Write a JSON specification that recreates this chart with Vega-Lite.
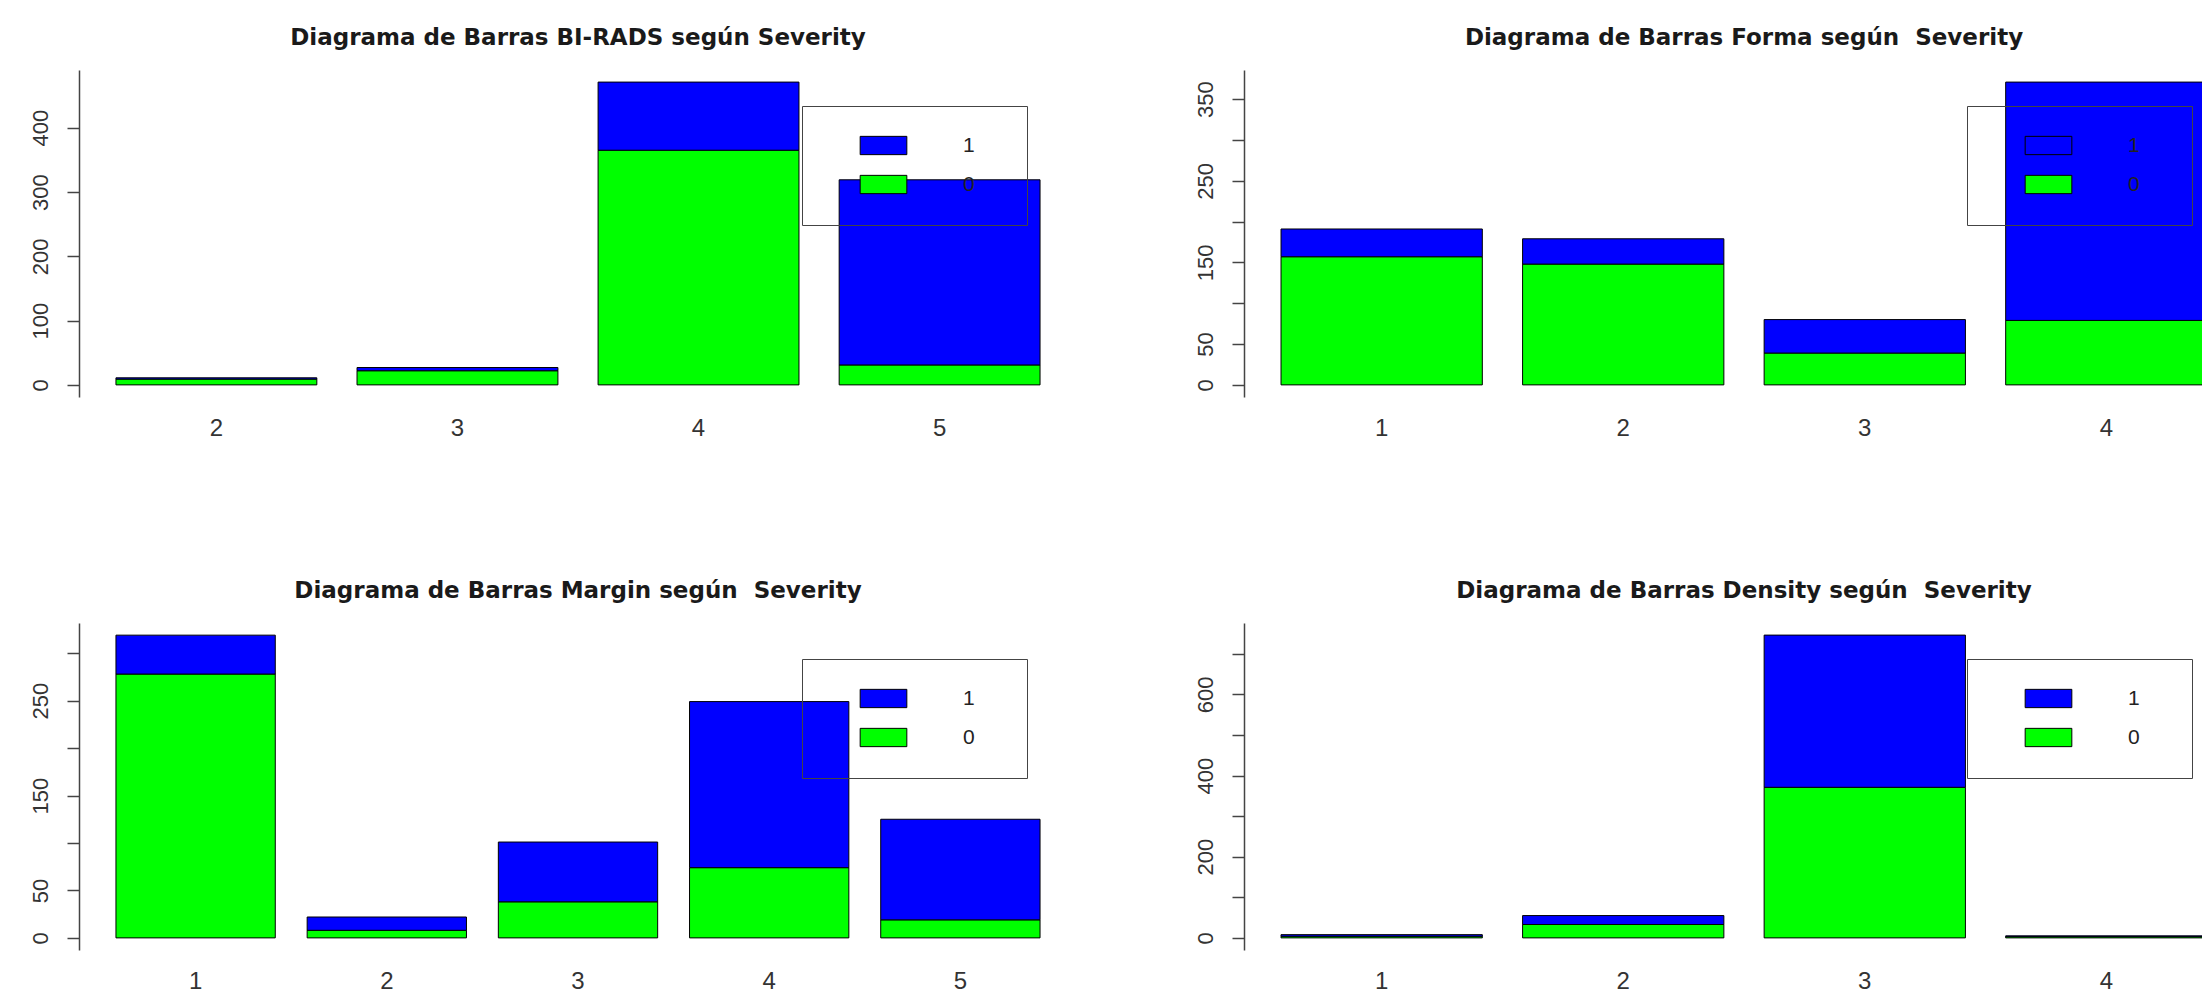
{
  "$schema": "https://vega.github.io/schema/vega-lite/v6.json",
  "background": "white",
  "padding": {"left": 28, "top": 27, "right": 0, "bottom": 0},
  "autosize": {"type": "pad"},
  "columns": 2,
  "spacing": {"row": 226, "column": 167},
  "bounds": "flush",
  "resolve": {
    "scale": {"x": "independent", "y": "independent", "color": "independent"},
    "legend": {"color": "independent"},
    "axis": {"x": "independent", "y": "independent"}
  },
  "config": {
    "view": {"stroke": null},
    "font": "Liberation Sans",
    "title": {"font": "DejaVu Sans", "fontSize": 23, "fontWeight": "bold", "color": "#1a1a1a", "anchor": "middle", "offset": 20},
    "axis": {"labelFont": "Liberation Sans", "labelFontSize": 22, "labelColor": "#333333", "domainColor": "#444444", "tickColor": "#444444", "domainWidth": 1.5, "tickWidth": 1.5, "grid": false},
    "axisY": {"tickSize": 12, "labelPadding": 15, "labelAngle": -90, "labelAlign": "center", "labelBaseline": "bottom"},
    "axisX": {"domain": false, "ticks": false, "labelAngle": 0, "labelPadding": 19, "labelFontSize": 24},
    "legend": {"orient": "none", "legendX": 723, "legendY": 36, "padding": 29, "strokeColor": "#444444", "symbolType": "M-2.55,-1H2.55V1H-2.55ZM12.2,0", "symbolSize": 335, "symbolStrokeColor": "#000000", "symbolStrokeWidth": 1, "symbolOpacity": 1, "labelFont": "Liberation Sans", "labelFontSize": 21, "labelColor": "#222222", "rowPadding": 16, "symbolOffset": 42, "labelOffset": 69}
  },
  "concat": [
    {
      "title": "Diagrama de Barras BI-RADS según Severity",
      "width": 998, "height": 327,
      "data": {"values": [
        {"cat": "2", "Severity": "0", "count": 9}, {"cat": "2", "Severity": "1", "count": 2},
        {"cat": "3", "Severity": "0", "count": 22}, {"cat": "3", "Severity": "1", "count": 5},
        {"cat": "4", "Severity": "0", "count": 365}, {"cat": "4", "Severity": "1", "count": 106},
        {"cat": "5", "Severity": "0", "count": 31}, {"cat": "5", "Severity": "1", "count": 288}
      ]},
      "mark": {"type": "bar", "stroke": "#000000", "strokeWidth": 1},
      "encoding": {
        "x": {"field": "cat", "type": "ordinal", "scale": {"paddingInner": 0.1667, "paddingOuter": 0.1533}, "axis": {"title": null}},
        "y": {"field": "count", "type": "quantitative", "stack": "zero", "scale": {"domain": [-18.84, 489.8], "nice": false, "zero": false}, "axis": {"title": null, "values": [0, 100, 200, 300, 400]}},
        "color": {"field": "Severity", "type": "nominal", "scale": {"domain": ["1", "0"], "range": ["#0000FF", "#00FF00"]}, "legend": {"title": null}},
        "order": {"field": "Severity", "sort": "ascending"}
      }
    },
    {
      "title": "Diagrama de Barras Forma según\u00a0 Severity",
      "width": 1000, "height": 327,
      "data": {"values": [
        {"cat": "1", "Severity": "0", "count": 157}, {"cat": "1", "Severity": "1", "count": 34},
        {"cat": "2", "Severity": "0", "count": 148}, {"cat": "2", "Severity": "1", "count": 31},
        {"cat": "3", "Severity": "0", "count": 39}, {"cat": "3", "Severity": "1", "count": 41},
        {"cat": "4", "Severity": "0", "count": 79}, {"cat": "4", "Severity": "1", "count": 292}
      ]},
      "mark": {"type": "bar", "stroke": "#000000", "strokeWidth": 1},
      "encoding": {
        "x": {"field": "cat", "type": "ordinal", "scale": {"paddingInner": 0.1667, "paddingOuter": 0.1533}, "axis": {"title": null}},
        "y": {"field": "count", "type": "quantitative", "stack": "zero", "scale": {"domain": [-14.84, 385.8], "nice": false, "zero": false}, "axis": {"title": null, "values": [0, 50, 100, 150, 200, 250, 300, 350], "labelExpr": "datum.value % 100 == 0 && datum.value > 0 ? '' : datum.label"}},
        "color": {"field": "Severity", "type": "nominal", "scale": {"domain": ["1", "0"], "range": ["#0000FF", "#00FF00"]}, "legend": {"title": null}},
        "order": {"field": "Severity", "sort": "ascending"}
      }
    },
    {
      "title": "Diagrama de Barras Margin según\u00a0 Severity",
      "width": 998, "height": 327,
      "data": {"values": [
        {"cat": "1", "Severity": "0", "count": 278}, {"cat": "1", "Severity": "1", "count": 41},
        {"cat": "2", "Severity": "0", "count": 8}, {"cat": "2", "Severity": "1", "count": 14},
        {"cat": "3", "Severity": "0", "count": 38}, {"cat": "3", "Severity": "1", "count": 63},
        {"cat": "4", "Severity": "0", "count": 74}, {"cat": "4", "Severity": "1", "count": 175},
        {"cat": "5", "Severity": "0", "count": 19}, {"cat": "5", "Severity": "1", "count": 106}
      ]},
      "mark": {"type": "bar", "stroke": "#000000", "strokeWidth": 1},
      "encoding": {
        "x": {"field": "cat", "type": "ordinal", "scale": {"paddingInner": 0.1667, "paddingOuter": 0.1933}, "axis": {"title": null}},
        "y": {"field": "count", "type": "quantitative", "stack": "zero", "scale": {"domain": [-12.76, 331.8], "nice": false, "zero": false}, "axis": {"title": null, "values": [0, 50, 100, 150, 200, 250, 300], "labelExpr": "datum.value % 100 == 0 && datum.value > 0 ? '' : datum.label"}},
        "color": {"field": "Severity", "type": "nominal", "scale": {"domain": ["1", "0"], "range": ["#0000FF", "#00FF00"]}, "legend": {"title": null}},
        "order": {"field": "Severity", "sort": "ascending"}
      }
    },
    {
      "title": "Diagrama de Barras Density según\u00a0 Severity",
      "width": 1000, "height": 327,
      "data": {"values": [
        {"cat": "1", "Severity": "0", "count": 4}, {"cat": "1", "Severity": "1", "count": 4},
        {"cat": "2", "Severity": "0", "count": 33}, {"cat": "2", "Severity": "1", "count": 22},
        {"cat": "3", "Severity": "0", "count": 371}, {"cat": "3", "Severity": "1", "count": 375},
        {"cat": "4", "Severity": "0", "count": 3}, {"cat": "4", "Severity": "1", "count": 2}
      ]},
      "mark": {"type": "bar", "stroke": "#000000", "strokeWidth": 1},
      "encoding": {
        "x": {"field": "cat", "type": "ordinal", "scale": {"paddingInner": 0.1667, "paddingOuter": 0.1533}, "axis": {"title": null}},
        "y": {"field": "count", "type": "quantitative", "stack": "zero", "scale": {"domain": [-29.84, 775.8], "nice": false, "zero": false}, "axis": {"title": null, "values": [0, 100, 200, 300, 400, 500, 600, 700], "labelExpr": "datum.value % 200 == 100 ? '' : datum.label"}},
        "color": {"field": "Severity", "type": "nominal", "scale": {"domain": ["1", "0"], "range": ["#0000FF", "#00FF00"]}, "legend": {"title": null}},
        "order": {"field": "Severity", "sort": "ascending"}
      }
    }
  ]
}
